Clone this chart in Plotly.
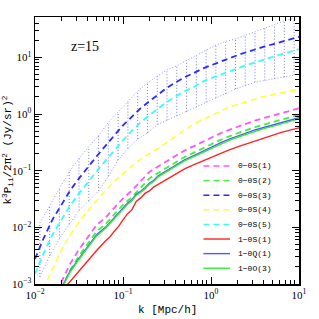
import plotly.graph_objects as go

# ---------------- data ----------------
k_grid = [0.01, 0.01259, 0.01585, 0.01995, 0.02512, 0.03162, 0.03981, 0.05012, 0.0631, 0.07943,
          0.1, 0.1259, 0.1585, 0.1995, 0.2512, 0.3162, 0.3981, 0.5012, 0.631, 0.7943,
          1.0, 1.259, 1.585, 1.995, 2.512, 3.162, 3.981, 5.012, 6.31, 7.943, 10.0]

k_solid = [0.01585, 0.01995, 0.02512, 0.03162, 0.03981, 0.05012, 0.0631, 0.07079, 0.07943, 0.08913,
           0.1, 0.1122, 0.1259, 0.1413, 0.1585, 0.1778, 0.1995, 0.2239, 0.2512, 0.2818,
           0.3162, 0.3981, 0.5012, 0.631, 0.7943, 1.0, 1.259, 1.585, 1.995, 2.512,
           3.162, 3.981, 5.012, 6.31, 7.943, 10.0]

k_bins = [0.01136, 0.01468, 0.01896, 0.02448, 0.03162, 0.04084, 0.05275, 0.06813, 0.08799,
          0.1136, 0.1468, 0.1896, 0.2448, 0.3162, 0.4084, 0.5275, 0.6813, 0.8799,
          1.136, 1.468, 1.896, 2.448, 3.162, 4.084, 5.275, 6.813, 8.799]

s3_blue = [2.77e-3, 6.50e-3, 0.0138, 0.0244, 0.0449, 0.0731, 0.1167, 0.179, 0.274, 0.420,
           0.632, 0.892, 1.261, 1.677, 2.229, 2.903, 3.63, 4.45, 5.24, 6.29,
           7.25, 8.36, 9.64, 10.9, 12.3, 13.9, 15.4, 17.0, 18.9, 20.9, 23.1]

s5_cyan = [1.50e-3, 3.53e-3, 7.50e-3, 0.01324, 0.0244, 0.0397, 0.0634, 0.0973, 0.149, 0.229,
           0.343, 0.505, 0.714, 0.949, 1.262, 1.644, 2.056, 2.518, 2.965, 3.70,
           4.27, 4.92, 5.68, 6.41, 7.24, 8.18, 9.25, 10.2, 11.3, 12.6, 13.9]

s4_yellow = [3.93e-4, 8.33e-4, 1.80e-3, 3.99e-3, 7.35e-3, 0.01236, 0.0196, 0.0300, 0.0447, 0.0647,
             0.0896, 0.1205, 0.1596, 0.198, 0.248, 0.318, 0.408, 0.524, 0.665, 0.787,
             0.929, 1.116, 1.318, 1.47, 1.643, 1.83, 2.03, 2.18, 2.36, 2.56, 2.75]

# these two start at k_grid[2]
s1_magenta = [5.11e-4, 1.107e-3, 2.29e-3, 4.07e-3, 6.76e-3, 0.01101, 0.01483, 0.0217, 0.0325,
              0.0444, 0.0641, 0.0953, 0.119, 0.149, 0.184, 0.2275, 0.2686, 0.320, 0.383,
              0.451, 0.521, 0.597, 0.676, 0.767, 0.847, 0.929, 1.029, 1.139, 1.261]

s2_green = [3.92e-4, 8.50e-4, 1.76e-3, 3.13e-3, 5.19e-3, 8.46e-3, 0.01139, 0.01667, 0.02496,
            0.0341, 0.0492, 0.0732, 0.0914, 0.1144, 0.1413, 0.1747, 0.2063, 0.2458, 0.2941,
            0.3464, 0.4001, 0.4585, 0.519, 0.589, 0.650, 0.713, 0.790, 0.875, 0.968]

red_10S1 = [4.81e-4, 7.37e-4, 1.13e-3, 1.66e-3, 2.55e-3, 3.91e-3, 5.75e-3, 6.77e-3, 8.47e-3, 0.01037,
            0.01351, 0.01725, 0.02030, 0.02868, 0.03307, 0.03972, 0.04395, 0.05173, 0.05728, 0.06341,
            0.07019, 0.08781, 0.1076, 0.1266, 0.1472, 0.1753, 0.2021, 0.2312, 0.2634, 0.2975,
            0.3361, 0.3798, 0.4290, 0.4750, 0.5193, 0.5705]

blue_10Q1 = [4.27e-4, 8.53e-4, 1.70e-3, 2.83e-3, 4.62e-3, 7.37e-3, 9.99e-3, 0.01225, 0.01470, 0.01803,
             0.02255, 0.02653, 0.03059, 0.03825, 0.04322, 0.04985, 0.05986, 0.06762, 0.08120, 0.0899,
             0.1016, 0.1255, 0.1551, 0.1832, 0.2182, 0.2609, 0.3070, 0.3555, 0.4066, 0.4613,
             0.5230, 0.5768, 0.6337, 0.7015, 0.7764, 0.8595]

green_10O3 = [4.09e-4, 8.16e-4, 1.63e-3, 2.71e-3, 4.42e-3, 7.05e-3, 9.56e-3, 0.01172, 0.01407, 0.01725,
              0.02158, 0.02539, 0.02927, 0.03660, 0.04136, 0.04770, 0.05728, 0.06471, 0.07770, 0.0860,
              0.0972, 0.1201, 0.1484, 0.1753, 0.2088, 0.2497, 0.2938, 0.3402, 0.3891, 0.4414,
              0.5005, 0.552, 0.6064, 0.6713, 0.743, 0.8225]

band_hi = [0.01196, 0.02488, 0.04868, 0.0953, 0.1642, 0.2634, 0.4119, 0.7136, 1.089,
           1.732, 2.539, 3.544, 4.673, 6.038, 7.105, 8.851, 10.67, 13.41,
           16.36, 19.10, 21.14, 24.28, 27.77, 32.40, 37.83, 44.15, 49.27]

band_lo = [1.329e-3, 3.125e-3, 6.366e-3, 0.01148, 0.01981, 0.02927, 0.04395, 0.07929, 0.1545,
           0.2457, 0.3601, 0.4636, 0.6445, 0.7739, 0.9294, 1.094, 1.313, 1.609,
           1.932, 2.275, 2.765, 3.176, 3.633, 3.908, 4.205, 4.524, 4.849]

legend_labels = ["0−0S(1)", "0−0S(2)", "0−0S(3)", "0−0S(4)", "0−0S(5)",
                 "1−0S(1)", "1−0Q(1)", "1−0O(3)"]

x_tickvals = [0.01, 0.1, 1, 10]
x_ticktext = ["10<sup>−2</sup>", "10<sup>−1</sup>", "10<sup>0</sup>", "10<sup>1</sup>"]
y_tickvals = [0.001, 0.01, 0.1, 1, 10]
y_ticktext = ["10<sup>−3</sup>", "10<sup>−2</sup>", "10<sup>−1</sup>", "10<sup>0</sup>", "10<sup>1</sup>"]

# ---------------- styles ----------------
DASH = "6px,4px"
C_MAG, C_GRN, C_BLU, C_YEL, C_CYA = "#ff55ff", "#44ee44", "#2a2aff", "#ffff33", "#33ffff"
C_RED, C_BSOL, C_GSOL = "#ff2222", "#5555ff", "#33ee33"

fig = go.Figure()

# band: vertical dotted bars
vx, vy = [], []
for kb, lo, hi in zip(k_bins, band_lo, band_hi):
    vx += [kb, kb, None]
    vy += [lo, hi, None]
fig.add_trace(go.Scatter(x=vx, y=vy, mode="lines",
                         line=dict(color="rgb(120,120,240)", width=1, dash="1px,2px")))
fig.add_trace(go.Scatter(x=k_bins, y=band_hi, mode="lines",
                         line=dict(color="rgb(150,150,250)", width=1, dash="1px,2px")))
fig.add_trace(go.Scatter(x=k_bins, y=band_lo, mode="lines",
                         line=dict(color="rgb(150,150,250)", width=1, dash="1px,2px")))

dashed = [
    (k_grid, s4_yellow, C_YEL, 1.5),
    (k_grid, s5_cyan, C_CYA, 1.8),
    (k_grid, s3_blue, C_BLU, 1.8),
    (k_grid[2:], s2_green, C_GRN, 1.8),
    (k_grid[2:], s1_magenta, C_MAG, 1.8),
]
for kx, yy, col, w in dashed:
    fig.add_trace(go.Scatter(x=kx, y=yy, mode="lines", line=dict(color=col, width=w, dash=DASH)))

solids = [(red_10S1, C_RED), (blue_10Q1, C_BSOL), (green_10O3, C_GSOL)]
for yy, col in solids:
    fig.add_trace(go.Scatter(x=k_solid, y=yy, mode="lines", line=dict(color=col, width=1.4)))

# ---------------- manual legend ----------------
leg_styles = [(C_MAG, DASH), (C_GRN, DASH), (C_BLU, DASH), (C_YEL, DASH), (C_CYA, DASH),
              (C_RED, "solid"), (C_BSOL, "solid"), (C_GSOL, "solid")]
y0, dy = 0.442, 0.0547
for i, (lab, (col, ds)) in enumerate(zip(legend_labels, leg_styles)):
    yy = y0 - i * dy
    fig.add_shape(type="line", xref="paper", yref="paper", x0=0.638, x1=0.739, y0=yy, y1=yy,
                  line=dict(color=col, width=1.4, dash=ds))
    fig.add_annotation(xref="paper", yref="paper", x=0.762, y=yy, text=lab, showarrow=False,
                       xanchor="left", yanchor="middle",
                       font=dict(family="Liberation Mono", size=8, color="black"))

fig.add_annotation(xref="paper", yref="paper", x=0.19, y=0.888, text="z=15", showarrow=False,
                   xanchor="center", yanchor="middle",
                   font=dict(family="Liberation Serif", size=14, color="black"))
fig.add_annotation(xref="paper", yref="paper", x=0.5, y=-0.097, text="k [Mpc/h]", showarrow=False,
                   xanchor="center", yanchor="middle",
                   font=dict(family="Liberation Mono", size=11, color="black"))
fig.add_annotation(xref="paper", yref="paper", x=-0.102, y=0.5, textangle=-90,
                   text="k<sup>3</sup>P<sub>ii</sub>/2π<sup>2</sup> (Jy/sr)<sup>2</sup>",
                   showarrow=False, xanchor="center", yanchor="middle",
                   font=dict(family="Liberation Mono", size=11, color="black"))

axis_common = dict(type="log", tickmode="array",
                   ticks="inside", ticklen=7, tickwidth=1, tickcolor="black",
                   mirror="allticks", showline=True, linecolor="black", linewidth=1.5,
                   showgrid=False, zeroline=False,
                   tickfont=dict(family="Liberation Serif", size=11, color="black"),
                   minor=dict(ticks="inside", ticklen=4, tickcolor="black", dtick="D1",
                              showgrid=False))

fig.update_layout(
    width=319, height=319,
    margin=dict(l=34, r=17, t=17, b=35),
    paper_bgcolor="white", plot_bgcolor="white",
    showlegend=False,
    hovermode=False,
    xaxis=dict(range=[-2, 1], tickvals=x_tickvals, ticktext=x_ticktext, **axis_common),
    yaxis=dict(range=[-3, 1.712], tickvals=y_tickvals, ticktext=y_ticktext, **axis_common),
)

fig.write_html("out.html",
               config={"displayModeBar": False, "staticPlot": True},
               post_script="document.body.style.margin='0px';document.body.style.overflow='hidden';")
